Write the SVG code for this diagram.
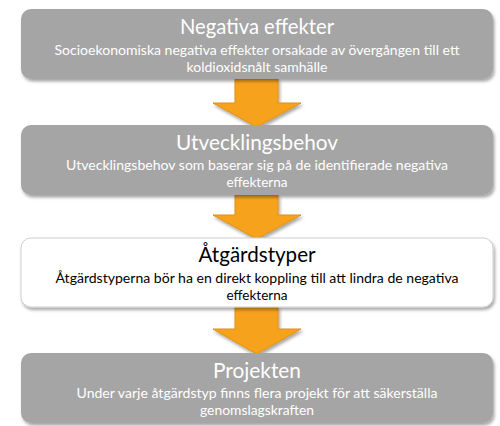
<svg xmlns="http://www.w3.org/2000/svg" width="500" height="426" viewBox="0 0 500 426">
<style>
.box{fill:#a5a5a5;filter:url(#sh)}
.wbox{fill:#ffffff;stroke:#cfcfcf;stroke-width:1;filter:url(#sh)}
.arr{fill:#f7a21c;stroke:#e0900f;stroke-width:1;filter:url(#sh)}
.t{font-family:Lato,"Open Sans",sans-serif;font-size:21px;text-anchor:middle;fill:#ffffff}
.s{font-family:Lato,"Open Sans",sans-serif;font-size:14px;text-anchor:middle;fill:#ffffff}
.dk{fill:#000000}
</style>
<defs>
<filter id="sh" x="-10%" y="-20%" width="120%" height="150%">
<feDropShadow dx="1.5" dy="2.5" stdDeviation="1.8" flood-color="#000" flood-opacity="0.35"/>
</filter>
</defs>
<g id="connectors">
<path class="arr" d="M235,79 H278 V103 H301 L256.5,127 L213,103 H235 Z"/>
<path class="arr" d="M235,195 H278 V215 H301 L256.5,239 L213,215 H235 Z"/>
<path class="arr" d="M235,307 H278 V329 H301 L256.5,354 L213,329 H235 Z"/>
</g>
<g id="node1">
<rect class="box" x="21" y="9" width="472" height="70" rx="10"/>
<text class="t" x="257" y="34" textLength="154" lengthAdjust="spacingAndGlyphs">Negativa effekter</text>
<text class="s" x="257" y="55" textLength="405" lengthAdjust="spacingAndGlyphs">Socioekonomiska  negativa effekter orsakade av övergången till ett</text>
<text class="s" x="257" y="72" textLength="141" lengthAdjust="spacingAndGlyphs">koldioxidsnålt samhälle</text>
</g>
<g id="node2">
<rect class="box" x="21" y="125" width="472" height="70" rx="10"/>
<text class="t" x="257" y="150" textLength="162" lengthAdjust="spacingAndGlyphs">Utvecklingsbehov</text>
<text class="s" x="257" y="170" textLength="382" lengthAdjust="spacingAndGlyphs">Utvecklingsbehov som baserar sig på de identifierade negativa</text>
<text class="s" x="257" y="187" textLength="61" lengthAdjust="spacingAndGlyphs">effekterna</text>
</g>
<g id="node3">
<rect class="wbox" x="21" y="238" width="472" height="69" rx="10"/>
<text class="t dk" x="257" y="262" textLength="117" lengthAdjust="spacingAndGlyphs">Åtgärdstyper</text>
<text class="s dk" x="257" y="283" textLength="403" lengthAdjust="spacingAndGlyphs">Åtgärdstyperna bör ha en direkt koppling till att lindra de negativa</text>
<text class="s dk" x="257" y="300" textLength="61" lengthAdjust="spacingAndGlyphs">effekterna</text>
</g>
<g id="node4">
<rect class="box" x="21" y="353" width="472" height="70" rx="10"/>
<text class="t" x="257" y="378" textLength="88" lengthAdjust="spacingAndGlyphs">Projekten</text>
<text class="s" x="257" y="398" textLength="361" lengthAdjust="spacingAndGlyphs">Under varje åtgärdstyp finns flera projekt för att säkerställa</text>
<text class="s" x="257" y="415" textLength="114" lengthAdjust="spacingAndGlyphs">genomslagskraften</text>
</g>
</svg>
